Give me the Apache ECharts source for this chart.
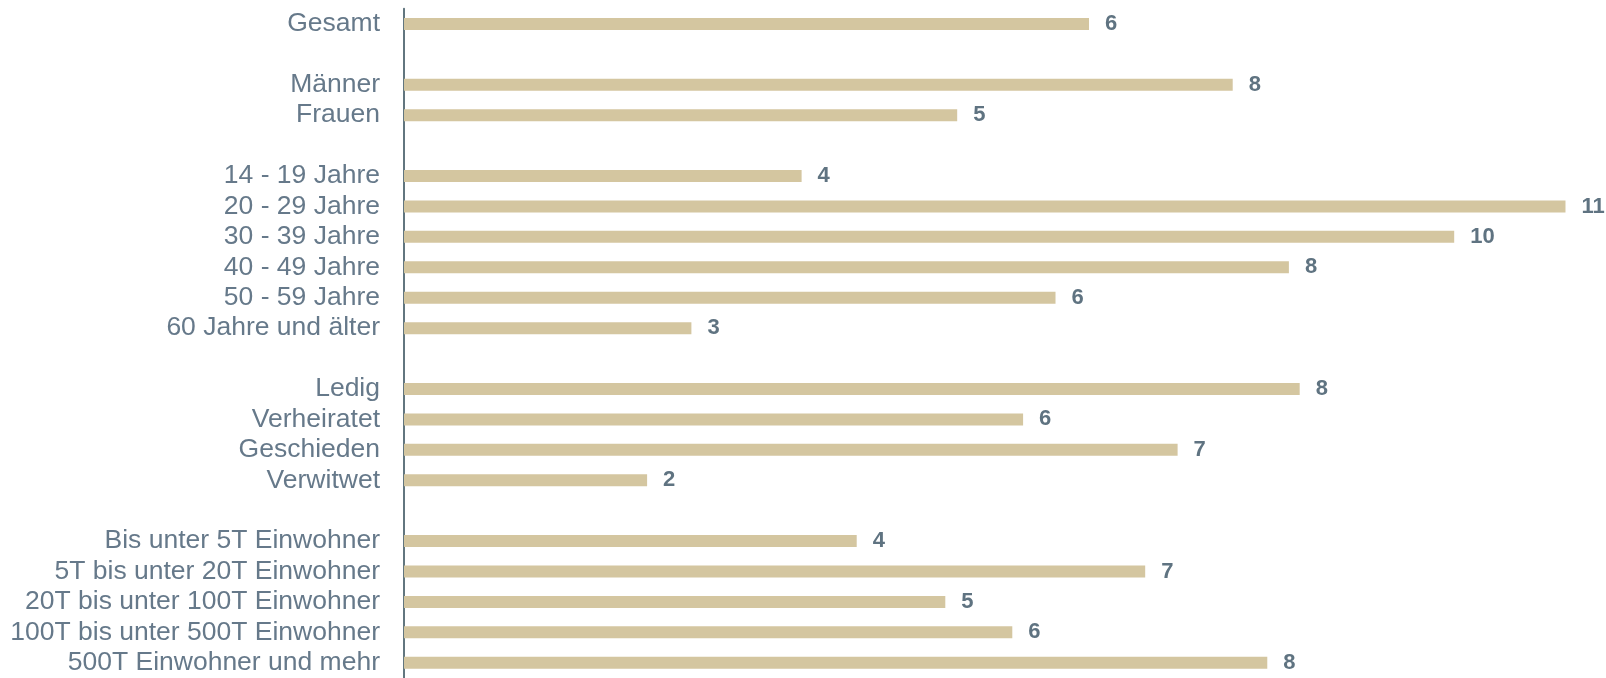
<!DOCTYPE html>
<html>
<head>
<meta charset="utf-8">
<script src="https://cdn.jsdelivr.net/npm/echarts@6/dist/echarts.min.js"></script>
<style>
html,body{margin:0;padding:0;background:#fff;}
#chart{width:1606px;height:678px;}
</style>
</head>
<body>
<div id="chart"></div>
<script>
var categories = [
  'Gesamt', '',
  'Männer', 'Frauen', '',
  '14 - 19 Jahre', '20 - 29 Jahre', '30 - 39 Jahre', '40 - 49 Jahre', '50 - 59 Jahre', '60 Jahre und älter', '',
  'Ledig', 'Verheiratet', 'Geschieden', 'Verwitwet', '',
  'Bis unter 5T Einwohner', '5T bis unter 20T Einwohner', '20T bis unter 100T Einwohner', '100T bis unter 500T Einwohner', '500T Einwohner und mehr'
];
var values = [
  6.34, null,
  7.67, 5.12, null,
  3.68, 10.75, 9.72, 8.19, 6.03, 2.66, null,
  8.29, 5.73, 7.16, 2.25, null,
  4.19, 6.86, 5.01, 5.63, 7.99
];

var chart = echarts.init(document.getElementById('chart'), null, {renderer: 'canvas'});
chart.setOption({
  animation: false,
  backgroundColor: '#ffffff',
  grid: {left: 404, right: 13.5, top: 8.7, bottom: -4.3, containLabel: false},
  xAxis: {
    type: 'value', min: 0, max: 11, show: false
  },
  yAxis: {
    type: 'category',
    data: categories,
    inverse: true,
    axisLine: {show: true, lineStyle: {color: '#62767f', width: 2}},
    axisTick: {show: false},
    splitLine: {show: false},
    axisLabel: {
      interval: 0,
      hideOverlap: false,
      margin: 24,
      fontSize: 26.5,
      fontFamily: '"Liberation Sans", Arial, sans-serif',
      color: '#66798a'
    }
  },
  series: [{
    type: 'bar',
    data: values,
    barWidth: 12,
    itemStyle: {color: '#d4c6a0'},
    label: {
      show: true,
      position: 'right',
      distance: 16,
      fontSize: 22,
      fontWeight: 'bold',
      fontFamily: '"Liberation Sans", Arial, sans-serif',
      color: '#5f7381',
      formatter: function (p) { return p.value == null ? '' : String(Math.round(p.value)); }
    }
  }]
});
</script>
</body>
</html>
